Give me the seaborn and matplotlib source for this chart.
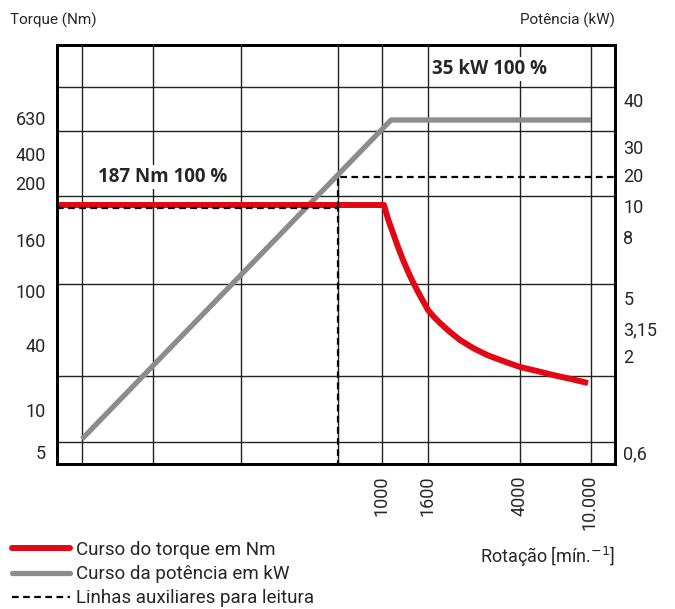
import numpy as np
import pandas as pd
import seaborn as sns
import matplotlib.pyplot as plt
from matplotlib.lines import Line2D

sns.set_style("white")
plt.rcParams['font.family'] = ['Roboto', 'DejaVu Sans']

# schematic chart: positions on the drawing grid (x 0..558, y 0..419)
grid_x = [25, 96, 184, 281, 325, 371, 463, 534]
grid_y = [22, 88, 180, 268, 333, 377]

rot_pos = [325, 371, 463, 533]
rot_labels = ["1000", "1600", "4000", "10.000"]

torque_pos = [12, 54, 119, 173, 224, 281, 310, 346]
torque_labels = ["5", "10", "40", "100", "160", "200", "400", "630"]

power_pos = [12, 108, 136, 166, 227, 258, 289, 317, 364]
power_labels = ["0,6", "2", "3,15", "5", "8", "10", "20", "30", "40"]

# power curve (grey)
power_x = [25, 334, 534]
power_y = [25, 344, 344]

# torque curve (red)
torque_x = [0, 327, 331, 336, 341, 346, 353, 360, 366, 371, 377, 383, 393, 403, 416, 430, 446, 463, 480, 496, 514, 531]
torque_y = [259, 259, 245, 231, 217, 204, 188, 174, 163, 154, 147, 141, 132, 124, 116, 109, 103, 97, 93, 89, 85, 81]

# helper lines for reading (dashed)
aux1_x = [0, 281, 281]
aux1_y = [256, 256, 0]
aux2_x = [281, 281, 558]
aux2_y = [256, 287, 287]

fig = plt.figure(figsize=(6.75, 6.09), dpi=100)
ax = fig.add_axes([57/675, 145/609, 558/675, 419/609])
ax.set_xlim(0, 558)
ax.set_ylim(0, 419)

for gx in grid_x:
    ax.axvline(gx, color="#222222", lw=1, zorder=1)
for gy in grid_y:
    ax.axhline(gy, color="#222222", lw=1, zorder=1)

red = "#e30613"
grey = "#8c8c8c"

df_p = pd.DataFrame({"x": power_x, "y": power_y})
df_t = pd.DataFrame({"x": torque_x, "y": torque_y})
sns.lineplot(data=df_p, x="x", y="y", sort=False, color=grey, lw=3.8, ax=ax, zorder=3,
             solid_capstyle="butt")
sns.lineplot(data=df_t, x="x", y="y", sort=False, color=red, lw=4.3, ax=ax, zorder=4,
             solid_capstyle="butt")
for xs, ys in [(aux1_x, aux1_y), (aux2_x, aux2_y)]:
    ax.plot(xs, ys, color="black", lw=1.6, dashes=(3, 2), zorder=5)

bold = dict(fontsize=13.5, fontweight="bold", family=["Open Sans", "DejaVu Sans"],
            va="center", ha="left", zorder=6,
            bbox=dict(facecolor="white", edgecolor="none", pad=1.5))
ax.text(41, 287, "187 Nm 100 %", **bold)
ax.text(375, 395, "35 kW 100 %", **bold)

ax.set_xticks(rot_pos)
ax.set_xticklabels(rot_labels, rotation=90, fontsize=13)
ax.set_yticks(torque_pos)
ax.set_yticklabels(torque_labels, fontsize=13)
ax.tick_params(length=0, pad=8)
ax.set_xlabel("")
ax.set_ylabel("")

ax2 = ax.twinx()
ax2.set_ylim(0, 419)
ax2.set_yticks(power_pos)
ax2.set_yticklabels(power_labels, fontsize=13)
ax2.tick_params(length=0, pad=6)

for a in (ax, ax2):
    for s in a.spines.values():
        s.set_color("black")
        s.set_linewidth(2)

fig.text(10/675, 1 - 20/609, "Torque (Nm)", fontsize=11, ha="left", va="center")
fig.text(615/675, 1 - 20/609, "Potência (kW)", fontsize=11, ha="right", va="center")
fig.text(615/675, 1 - 557/609, "Rotação [mín.$^{-1}$]", fontsize=13, ha="right", va="center")

handles = [Line2D([], [], color=red, lw=4.3),
           Line2D([], [], color=grey, lw=3.8),
           Line2D([], [], color="black", lw=1.6, dashes=(3, 2))]
labels = ["Curso do torque em Nm", "Curso da potência em kW", "Linhas auxiliares para leitura"]
fig.legend(handles, labels, loc="upper left", bbox_to_anchor=(12/675, 1 - 541/609),
           frameon=False, fontsize=13.5, handlelength=3.1, handletextpad=0.3,
           labelspacing=0.33, borderpad=0, borderaxespad=0)

fig.savefig("out.png", dpi=100)
